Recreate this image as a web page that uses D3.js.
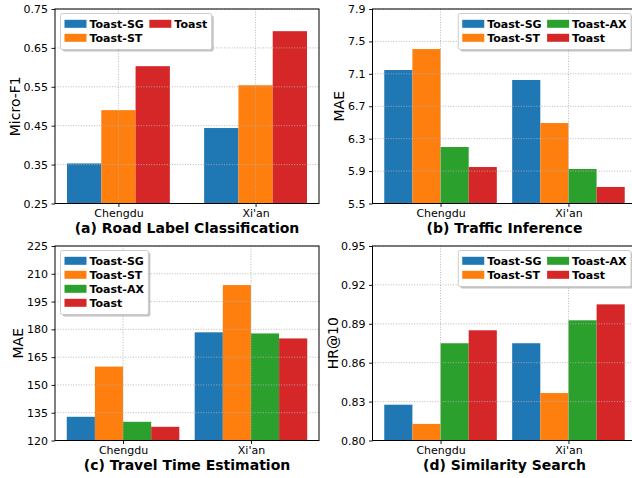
<!DOCTYPE html>
<html>
<head>
<meta charset="utf-8">
<script src="https://cdn.jsdelivr.net/npm/d3@7"></script>
<style>
html,body{margin:0;padding:0;background:#fff;}
svg{display:block;font-family:"DejaVu Sans",sans-serif;}
</style>
</head>
<body>
<svg id="chart" width="632" height="478"></svg>
<script>
// ---------- data ----------
const cities = ["Chengdu", "Xi'an"];
const modelNames = ["Toast-SG", "Toast-ST", "Toast-AX", "Toast"];

// (a) Road Label Classification, Micro-F1
const roadSG = [0.353, 0.444];
const roadST = [0.490, 0.554];
const roadToast = [0.603, 0.693];
const roadTicks = [0.25, 0.35, 0.45, 0.55, 0.65, 0.75];

// (b) Traffic Inference, MAE
const trafficSG = [7.147, 7.024];
const trafficST = [7.406, 6.493];
const trafficAX = [6.197, 5.926];
const trafficToast = [5.950, 5.704];
const trafficTicks = [5.5, 5.9, 6.3, 6.7, 7.1, 7.5, 7.9];

// (c) Travel Time Estimation, MAE
const travelSG = [132.8, 178.4];
const travelST = [159.9, 203.9];
const travelAX = [130.1, 177.8];
const travelToast = [127.4, 175.1];
const travelTicks = [120, 135, 150, 165, 180, 195, 210, 225];

// (d) Similarity Search, HR@10
const simSG = [0.8276, 0.875];
const simST = [0.8128, 0.8366];
const simAX = [0.875, 0.8927];
const simToast = [0.885, 0.905];
const simTicks = [0.80, 0.83, 0.86, 0.89, 0.92, 0.95];

// ---------- styles ----------
const modelColors = {"Toast-SG": "#1f77b4", "Toast-ST": "#ff7f0e", "Toast-AX": "#2ca02c", "Toast": "#d62728"};

const panels = [
  {x0: 55, y0: 9, title: "(a) Road Label Classification", ylabel: "Micro-F1", ylabelX: 15,
   series: [["Toast-SG", roadSG], ["Toast-ST", roadST], ["Toast", roadToast]],
   ticks: roadTicks, fmt: ".2f", legendSide: "left", ncol: 2, barW: 0.25, xDomain: [-0.4625, 1.4625]},
  {x0: 372.5, y0: 9, title: "(b) Traffic Inference", ylabel: "MAE", ylabelX: 339,
   series: [["Toast-SG", trafficSG], ["Toast-ST", trafficST], ["Toast-AX", trafficAX], ["Toast", trafficToast]],
   ticks: trafficTicks, fmt: ".1f", legendSide: "right", ncol: 2, barW: 0.22, xDomain: [-0.532, 1.532]},
  {x0: 55, y0: 246, title: "(c) Travel Time Estimation", ylabel: "MAE", ylabelX: 18,
   series: [["Toast-SG", travelSG], ["Toast-ST", travelST], ["Toast-AX", travelAX], ["Toast", travelToast]],
   ticks: travelTicks, fmt: "d", legendSide: "left", ncol: 1, barW: 0.22, xDomain: [-0.532, 1.532]},
  {x0: 372.5, y0: 246, title: "(d) Similarity Search", ylabel: "HR@10", ylabelX: 333,
   series: [["Toast-SG", simSG], ["Toast-ST", simST], ["Toast-AX", simAX], ["Toast", simToast]],
   ticks: simTicks, fmt: ".2f", legendSide: "right", ncol: 2, barW: 0.22, xDomain: [-0.532, 1.532]}
];

const W = 264, H = 194.5;
const svg = d3.select("#chart");
svg.append("rect").attr("width", 632).attr("height", 478).attr("fill", "#fff");

panels.forEach(p => {
  const g = svg.append("g").attr("transform", `translate(${p.x0},${p.y0})`);
  const x = d3.scaleLinear().domain(p.xDomain).range([0, W]);
  const y = d3.scaleLinear().domain([p.ticks[0], p.ticks[p.ticks.length - 1]]).range([H, 0]);
  const n = p.series.length;

  // bars
  p.series.forEach(([name, vals], j) => {
    g.selectAll(null).data(vals).enter().append("rect")
      .attr("x", (v, i) => x(i - n * p.barW / 2 + j * p.barW))
      .attr("width", x(p.barW) - x(0))
      .attr("y", v => y(v))
      .attr("height", v => H - y(v))
      .attr("fill", modelColors[name]);
  });

  // grid (drawn over bars)
  g.selectAll(null).data(p.ticks).enter().append("line")
    .attr("x1", 0).attr("x2", W).attr("y1", d => y(d)).attr("y2", d => y(d))
    .attr("stroke", "#b0b0b0").attr("stroke-width", 0.9).attr("stroke-dasharray", "1,1.6");
  g.selectAll(null).data(cities).enter().append("line")
    .attr("x1", (d, i) => x(i)).attr("x2", (d, i) => x(i)).attr("y1", 0).attr("y2", H)
    .attr("stroke", "#b0b0b0").attr("stroke-width", 0.9).attr("stroke-dasharray", "1,1.6");

  // axes
  const yAxis = d3.axisLeft(y).tickValues(p.ticks).tickFormat(d3.format(p.fmt))
    .tickSize(3.5).tickSizeOuter(0).tickPadding(3.5);
  const ya = g.append("g").call(yAxis);
  ya.select(".domain").remove();
  ya.selectAll("text").attr("font-size", 11).attr("font-family", "DejaVu Sans").attr("fill", "#000");
  ya.selectAll("line").attr("stroke", "#000").attr("stroke-width", 0.9);

  const xAxis = d3.axisBottom(x).tickValues([0, 1]).tickFormat((d, i) => cities[i])
    .tickSize(3.5).tickSizeOuter(0).tickPadding(1.8);
  const xa = g.append("g").attr("transform", `translate(0,${H})`).call(xAxis);
  xa.select(".domain").remove();
  xa.selectAll("text").attr("font-size", 11).attr("font-family", "DejaVu Sans").attr("fill", "#000");
  xa.selectAll("line").attr("stroke", "#000").attr("stroke-width", 0.9);

  // frame
  g.append("rect").attr("x", 0).attr("y", 0).attr("width", W).attr("height", H)
    .attr("fill", "none").attr("stroke", "#000").attr("stroke-width", 1);

  // y label
  svg.append("text")
    .attr("transform", `translate(${p.ylabelX},${p.y0 + H / 2}) rotate(-90)`)
    .attr("text-anchor", "middle").attr("dy", "0.35em")
    .attr("font-size", 14).attr("fill", "#000").text(p.ylabel);

  // title
  svg.append("text")
    .attr("x", p.x0 + W / 2).attr("y", p.y0 + H + 29)
    .attr("text-anchor", "middle").attr("font-size", 14).attr("font-weight", "bold")
    .attr("fill", "#000").text(p.title);

  // legend
  const names = p.series.map(s => s[0]);
  const rows = Math.ceil(names.length / p.ncol);
  const lg = svg.append("g");
  const items = names.map((nm, k) => ({nm, col: Math.floor(k / rows), row: k % rows}));
  // measure
  const tmp = svg.append("text").attr("font-size", 11).attr("font-weight", "bold");
  items.forEach(it => { tmp.text(it.nm); it.w = tmp.node().getComputedTextLength(); });
  tmp.remove();
  const colW = [];
  for (let c = 0; c < p.ncol; c++) colW.push(d3.max(items.filter(it => it.col === c), it => it.w) || 0);
  const boxW = 4 + d3.sum(colW, w => 25 + w) + 5.5 * (p.ncol - 1) + 4.5;
  const boxH = rows * 14 + 8;
  const bx = p.legendSide === "left" ? p.x0 + 5.5 : p.x0 + W - 5.5 - boxW;
  const by = p.y0 + 4.5;
  lg.append("rect").attr("x", bx + 2).attr("y", by + 2).attr("width", boxW).attr("height", boxH)
    .attr("rx", 2).attr("fill", "#888").attr("opacity", 0.5);
  lg.append("rect").attr("x", bx).attr("y", by).attr("width", boxW).attr("height", boxH)
    .attr("rx", 2).attr("fill", "#fff").attr("stroke", "#cccccc").attr("stroke-width", 1);
  const colX = [];
  let cx = bx + 4;
  colW.forEach(w => { colX.push(cx); cx += 25 + w + 5.5; });
  items.forEach(it => {
    const ry = by + 10.3 + it.row * 14;
    lg.append("rect").attr("x", colX[it.col]).attr("y", ry - 4).attr("width", 22).attr("height", 8)
      .attr("fill", modelColors[it.nm]);
    lg.append("text").attr("x", colX[it.col] + 25).attr("y", ry + 4)
      .attr("font-size", 11).attr("font-weight", "bold").attr("fill", "#000").text(it.nm);
  });
});
</script>
</body>
</html>
